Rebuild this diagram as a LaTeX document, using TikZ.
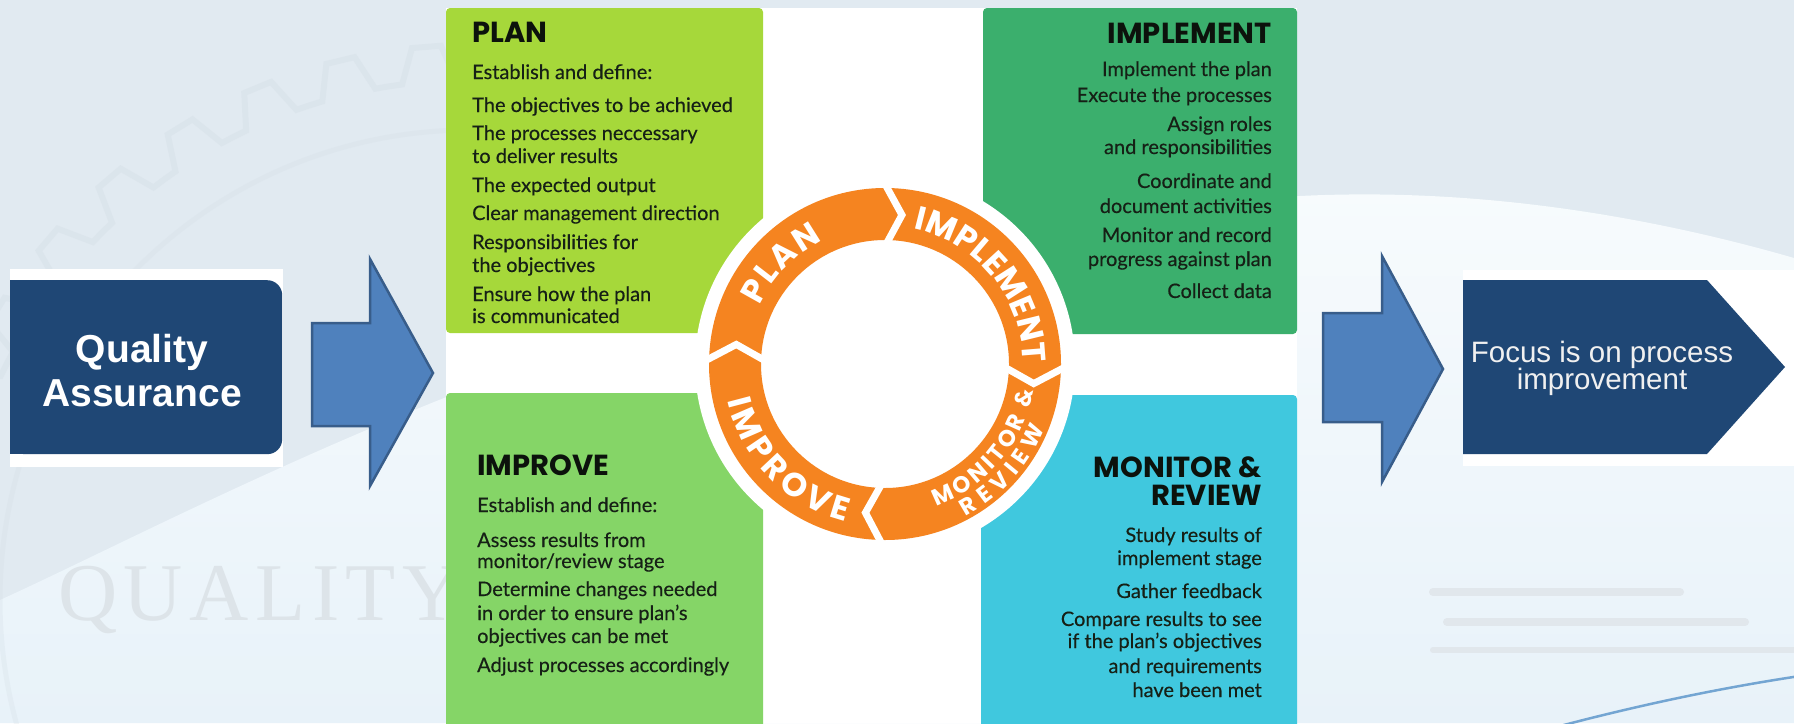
\documentclass[tikz,border=0pt]{standalone}
\usepackage{fontspec}
\setmainfont{Lato}[FakeBold=0.35]
\newfontfamily\headfont{Poppins}
\newfontfamily\ringfam{Poppins}
\newfontfamily\labelfont{Liberation Sans}
\newfontfamily\markfont{Liberation Serif}[LetterSpace=8]
\usetikzlibrary{decorations.text}

% palette
\definecolor{bgtop}{RGB}{225,234,241}
\definecolor{bglight}{RGB}{247,251,253}
\definecolor{bglow}{RGB}{232,242,249}
\definecolor{gearcol}{RGB}{210,220,228}
\definecolor{markcol}{RGB}{221,228,233}
\definecolor{barcol}{RGB}{225,231,236}
\definecolor{swooshc}{RGB}{115,165,210}
\definecolor{planc}{RGB}{166,216,58}
\definecolor{implc}{RGB}{59,175,109}
\definecolor{imprc}{RGB}{133,213,103}
\definecolor{monc}{RGB}{64,200,222}
\definecolor{ringc}{RGB}{245,132,32}
\definecolor{navyc}{RGB}{31,71,117}
\definecolor{arrowfill}{RGB}{79,129,189}
\definecolor{arrowline}{RGB}{56,93,138}
\definecolor{inkc}{RGB}{22,32,22}
\definecolor{headc}{RGB}{12,18,12}

\newcommand\stagebody{\fontsize{20}{23}\selectfont}
\newcommand\stagehead{\headfont\bfseries\fontsize{29}{29}\selectfont}
\newcommand\ringbig{\ringfam\bfseries\fontsize{33}{33}\selectfont}
\newcommand\ringsmall{\ringfam\bfseries\fontsize{23}{23}\selectfont}

\begin{document}
\begin{tikzpicture}[x=1pt, y=-1pt,
  bodyL/.style={anchor=base west, inner sep=0pt, font=\stagebody, text=inkc},
  bodyR/.style={anchor=base east, inner sep=0pt, font=\stagebody, text=inkc},
  headL/.style={anchor=base west, inner sep=0pt, font=\stagehead, text=headc},
  headR/.style={anchor=base east, inner sep=0pt, font=\stagehead, text=headc},
  blockarrow/.style={fill=arrowfill, draw=arrowline, line width=2.5pt, line join=miter},
  qatext/.style={anchor=base, inner sep=0pt, text=white, font=\labelfont\bfseries\fontsize{39}{44}\selectfont},
  focustext/.style={anchor=base, inner sep=0pt, text=white!94!black, font=\labelfont\fontsize{29.5}{27}\selectfont},
  ringtext/.style={decorate, decoration={text along path, text align={fit to path}, text color=white, text={#1}}},
]
\useasboundingbox (0,0) rectangle (1794,723);
\clip (0,0) rectangle (1794,723);

% ---- backdrop ----
\fill[bgtop] (0,0) rectangle (1794,723);
\shade[top color=bglight, bottom color=bglow]
  (0,600) .. controls (220,500) and (700,230) .. (1300,196)
  .. controls (1500,186) and (1680,225) .. (1794,258)
  -- (1794,723) -- (0,723) -- cycle;

% faint gear in the upper left
\begin{scope}
  \clip (0,0) rectangle (446,723);
  \begin{scope}[shift={(470,600)}, y=1pt]
    \draw[gearcol, line width=6pt, opacity=0.35] (0:520)
      \foreach \a in {0,9,...,351} { -- (\a+1.5:520) -- (\a+3:555) -- (\a+6:555) -- (\a+7.5:520) -- (\a+9:520) } -- cycle;
    \draw[gearcol, line width=5pt, opacity=0.25] (0,0) circle[radius=470];
  \end{scope}
\end{scope}

\node[anchor=base west, inner sep=0pt, font=\markfont\fontsize{82}{82}\selectfont, text=markcol] (mark) at (58,620) {QUALITY};

% streaks in the lower right
\draw[barcol, line width=8pt, line cap=round] (1433,592) -- (1680,592);
\draw[barcol, line width=8pt, line cap=round] (1447,622) -- (1745,622);
\draw[barcol, line width=6pt, line cap=round] (1433,650) -- (1800,650);
\draw[swooshc, line width=2.5pt] (1560,726) .. controls (1640,705) and (1720,688) .. (1800,676);

% ---- PDCA panel ----
\fill[white] (446,8) rectangle (1297,723);
\fill[planc, rounded corners=4pt] (446,8) rectangle (763,333);
\fill[implc, rounded corners=4pt] (983,8) rectangle (1297,334);
\fill[imprc, rounded corners=4pt] (446,393) rectangle (763,740);
\fill[monc, rounded corners=4pt] (981,395) rectangle (1297,740);

\begin{scope}[shift={(885,364)}, y=1pt]
  \fill[white] (0,0) circle[radius=190];
  \fill[ringc, even odd rule] (0,0) circle[radius=176] (0,0) circle[radius=124];
  \foreach \c in {91,0,-90,180}
    \draw[white, line width=7pt, line join=miter] (\c:186) -- (\c-7.5:150) -- (\c:114);
  \path[ringtext={|\ringbig|PLAN}] (155:138) arc[start angle=155, end angle=117, radius=138];
  \path[ringtext={|\ringbig|IMPLEMENT}] (78:138) arc[start angle=78, end angle=2, radius=138];
  \path[ringtext={|\ringbig|IMPROVE}] (193:162) arc[start angle=193, end angle=256, radius=162];
  \path[ringtext={|\ringsmall|MONITOR {\&}}] (-70:151) arc[start angle=-70, end angle=-10, radius=151];
  \path[ringtext={|\ringsmall|REVIEW}] (-62:172) arc[start angle=-62, end angle=-22, radius=172];
\end{scope}

% PLAN
\node[headL] (planT) at (472,42) {PLAN};
\foreach \yy/\tx [count=\i] in {
  79/{Establish and define:},
  112/{The objectives to be achieved},
  140/{The processes neccessary},
  163/{to deliver results},
  192/{The expected output},
  220/{Clear management direction},
  249/{Responsibilities for},
  272/{the objectives},
  301/{Ensure how the plan},
  323/{is communicated}}
  \node[bodyL, name=plan\i] at (472,\yy) {\tx};

% IMPLEMENT
\node[headR] (implT) at (1272,43) {IMPLEMENT};
\foreach \yy/\tx [count=\i] in {
  76/{Implement the plan},
  102/{Execute the processes},
  131/{Assign roles\hspace{6pt}},
  154/{and responsibilities},
  188/{Coordinate and\hspace{6pt}},
  213/{document activities},
  242/{Monitor and record\hspace{3pt}},
  266/{progress against plan},
  298/{Collect data}}
  \node[bodyR, name=impl\i] at (1272,\yy) {\tx};

% IMPROVE
\node[headL] (imprT) at (477,475) {IMPROVE};
\foreach \yy/\tx [count=\i] in {
  512/{Establish and define:},
  547/{Assess results from},
  568/{monitor/review stage},
  596/{Determine changes needed},
  620/{in order to ensure plan’s},
  643/{objectives can be met},
  672/{Adjust processes accordingly}}
  \node[bodyL, name=impr\i] at (477,\yy) {\tx};

% MONITOR & REVIEW
\node[headR] (monT1) at (1262,477) {MONITOR \&};
\node[headR] (monT2) at (1262,505) {REVIEW};
\foreach \yy/\tx [count=\i] in {
  542/{Study results of\hspace{4pt}},
  565/{implement stage},
  598/{Gather feedback},
  626/{Compare results to see},
  648/{if the plan’s objectives},
  673/{and requirements\hspace{5pt}},
  697/{have been met\hspace{2pt}}}
  \node[bodyR, name=mon\i] at (1262,\yy) {\tx};

% ---- left label ----
\fill[white] (10,269) rectangle (283,467);
\node[fill=navyc, rounded corners=15pt, minimum width=272pt, minimum height=174pt, anchor=north west, inner sep=0pt] (qa) at (10,280) {};
\fill[navyc] (10,280) rectangle (40,454);
\node[qatext] (qa1) at (142,362) {Quality};
\node[qatext] (qa2) at (142,406) {Assurance};

% ---- block arrows ----
\draw[blockarrow] (312,323) -- (370,323) -- (370,259) -- (433,373) -- (370,486) -- (370,426) -- (312,426) -- cycle;
\draw[blockarrow] (1323,313) -- (1382,313) -- (1382,256) -- (1443,369) -- (1382,482) -- (1382,422) -- (1323,422) -- cycle;

% ---- right label ----
\fill[white] (1463,270) rectangle (1794,466);
\fill[navyc] (1463,280) -- (1707,280) -- (1785,367) -- (1707,454) -- (1463,454) -- cycle;
\node[focustext] (f1) at (1602,362) {Focus is on process};
\node[focustext] (f2) at (1602,389) {improvement};

\end{tikzpicture}
\end{document}
